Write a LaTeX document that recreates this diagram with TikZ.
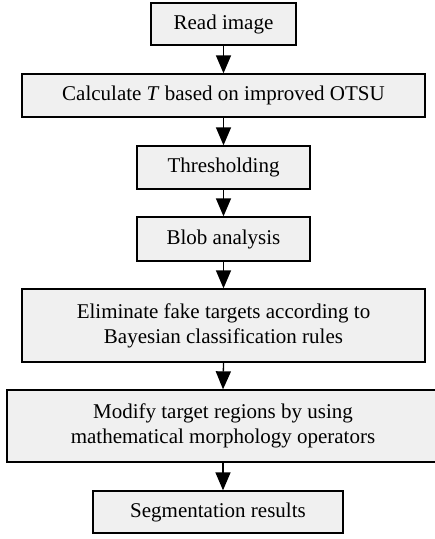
\documentclass[tikz,border=0pt]{standalone}
\usepackage{fontspec}
\setmainfont{Liberation Serif}
\usetikzlibrary{arrows.meta}
\definecolor{boxgray}{HTML}{F0F0F0}
\begin{document}
\begin{tikzpicture}[x=1pt,y=-1pt,
		box/.style={draw,line width=1.3pt,fill=boxgray,inner sep=0pt,align=center,font=\fontsize{21}{25}\selectfont},
		flow/.style={line width=1.3pt,-{Triangle[width=15pt,length=18pt]}}]
				\useasboundingbox (0,0) rectangle (435,539);
				\node [box,minimum width=145pt,minimum height=42pt] (read) at (223.5,24) {Read image};
				\node [box,minimum width=403pt,minimum height=43pt] (calc) at (223.5,95.5) {Calculate \textit{T} based on improved OTSU};
				\node [box,minimum width=173pt,minimum height=43pt] (thresh) at (223.5,167.5) {Thresholding};
				\node [box,minimum width=173pt,minimum height=44pt] (blob) at (223.5,239) {Blob analysis};
				\node [box,minimum width=403pt,minimum height=73pt] (elim) at (223.5,325.5) {Eliminate fake targets according to\\Bayesian classification rules};
				\node [box,minimum width=432pt,minimum height=72pt] (modify) at (223,426) {Modify target regions by using\\mathematical morphology operators};
				\node [box,minimum width=250pt,minimum height=42pt] (seg) at (218,512) {Segmentation results};
				\foreach \a/\b in {read/calc,calc/thresh,thresh/blob,blob/elim,elim/modify}
					\draw [flow] (\a.south) -- (\b.north);
				\draw [flow] (modify.south) -- (modify.south |- seg.north);
			\end{tikzpicture}
\end{document}
